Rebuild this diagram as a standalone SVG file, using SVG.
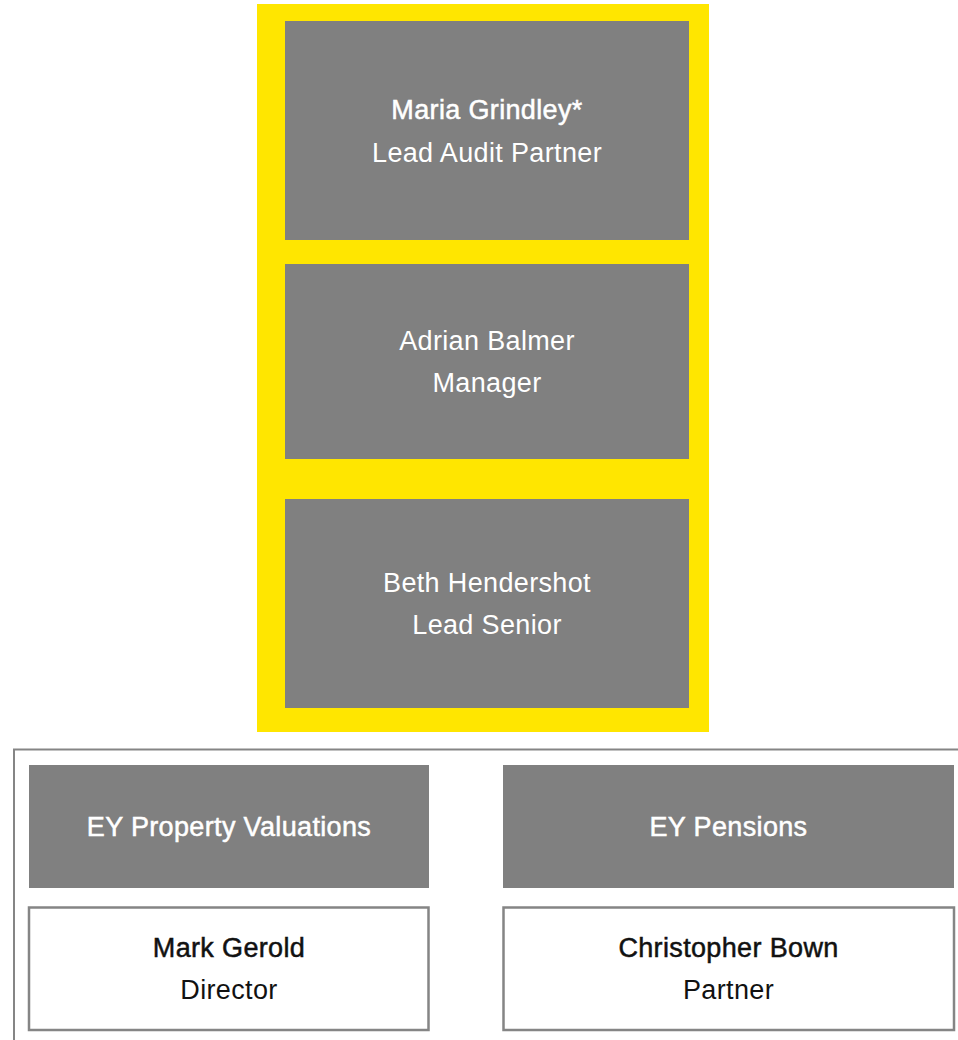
<svg xmlns="http://www.w3.org/2000/svg" width="958" height="1040" viewBox="0 0 958 1040">
<style>
.box{fill:#808080}
.card{fill:#ffffff;stroke:#858585;stroke-width:2.5}
.t{font-family:"Liberation Sans",Arial,sans-serif;font-size:27px;letter-spacing:0.35px;text-anchor:middle}
.w{fill:#ffffff}
.k{fill:#111111}
.wm{fill:#ffffff;stroke:#ffffff;stroke-width:0.5}
.km{fill:#111111;stroke:#111111;stroke-width:0.5}
</style>
<rect x="0" y="0" width="958" height="1040" fill="#ffffff"/>
<g id="team-frame">
<rect x="257" y="4" width="452" height="728" fill="#ffe600"/>
</g>
<g id="node-maria">
<rect class="box" x="285" y="21" width="404" height="219"/>
<text class="t wm" x="487" y="119">Maria Grindley*</text>
<text class="t w" x="487" y="162">Lead Audit Partner</text>
</g>
<g id="node-adrian">
<rect class="box" x="285" y="264" width="404" height="195"/>
<text class="t w" x="487" y="350">Adrian Balmer</text>
<text class="t w" x="487" y="392">Manager</text>
</g>
<g id="node-beth">
<rect class="box" x="285" y="499" width="404" height="209"/>
<text class="t w" x="487" y="592">Beth Hendershot</text>
<text class="t w" x="487" y="634">Lead Senior</text>
</g>
<g id="specialists-frame">
<path d="M14,1041 V749.5 H958" fill="none" stroke="#858585" stroke-width="2"/>
</g>
<g id="node-property">
<rect class="box" x="29" y="765" width="400" height="123"/>
<text class="t wm" x="229" y="836">EY Property Valuations</text>
</g>
<g id="node-mark">
<rect class="card" x="29" y="907.5" width="399.5" height="122.5"/>
<text class="t km" x="229" y="957">Mark Gerold</text>
<text class="t k" x="229" y="999">Director</text>
</g>
<g id="node-pensions">
<rect class="box" x="503" y="765" width="451" height="123"/>
<text class="t wm" x="728.5" y="836">EY Pensions</text>
</g>
<g id="node-christopher">
<rect class="card" x="503.5" y="907.5" width="450.5" height="122.5"/>
<text class="t km" x="728.5" y="957">Christopher Bown</text>
<text class="t k" x="728.5" y="999">Partner</text>
</g>
<g id="connectors"></g>
</svg>
